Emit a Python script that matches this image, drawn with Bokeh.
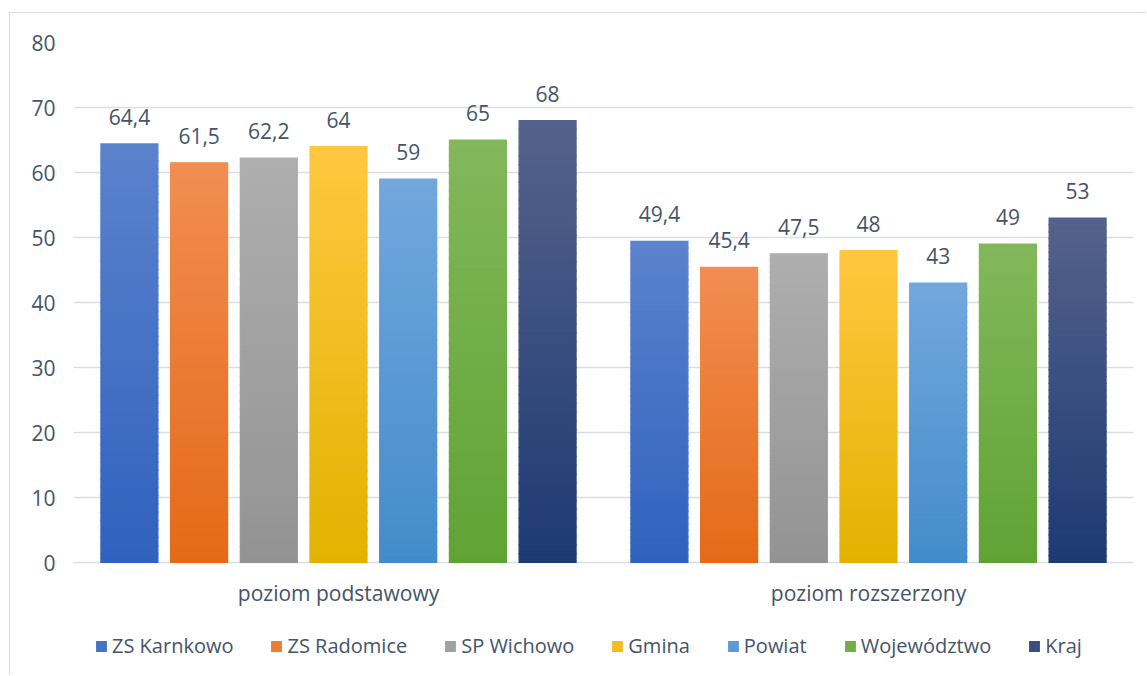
from bokeh.plotting import figure
from bokeh.models import ColumnDataSource, FactorRange, Legend, LegendItem, Range1d
from bokeh.transform import dodge
from bokeh.core.properties import value
from bokeh.embed import file_html
from bokeh.resources import INLINE

groups = ["poziom podstawowy", "poziom rozszerzony"]
series = ["ZS Karnkowo", "ZS Radomice", "SP Wichowo", "Gmina", "Powiat", "Województwo", "Kraj"]
podstawowy = [64.4, 61.5, 62.2, 64, 59, 65, 68]
rozszerzony = [49.4, 45.4, 47.5, 48, 43, 49, 53]
y_ticks = [0, 10, 20, 30, 40, 50, 60, 70, 80]

top_colors = ["#5B82CC", "#F28D52", "#AEAEAE", "#FFC740", "#72A7DD", "#82B85B", "#55628B"]
bottom_colors = ["#2F62BE", "#E46A17", "#939393", "#E3B200", "#438CCB", "#60A334", "#1D3A73"]

FONT = "Open Sans"
TXT = "#44546A"
GRID = "#DADDE2"

# the figure element is offset by a margin + 1px border (the chart-area frame)
OFF_X, OFF_Y = 10, 13
W, H = 1137, 663
TOP, LEFT, RIGHT = 42 - OFF_Y, 73 - OFF_X, 14
PX_PER_UNIT = 6.5
y_min = 80 - (H - TOP) / PX_PER_UNIT   # extra room below zero for labels and legend

p = figure(width=W, height=H, x_range=FactorRange(*groups, range_padding=0),
           y_range=Range1d(y_min, 80), output_backend="svg", toolbar_location=None,
           x_axis_location=None,
           min_border_left=LEFT, min_border_right=RIGHT, min_border_top=TOP,
           min_border_bottom=0,
           styles={"margin-left": "9px", "margin-top": "12px",
                   "border-left": "1px solid #D9DDE3", "border-top": "1px solid #D9DDE3"})
p.outline_line_color = None
p.background_fill_color = "white"
p.border_fill_color = "white"


def hex2rgb(h):
    h = h.lstrip("#")
    return tuple(int(h[i:i + 2], 16) for i in (0, 2, 4))


def mix(c1, c2, t):
    a, b = hex2rgb(c1), hex2rgb(c2)
    return "#%02x%02x%02x" % tuple(int(round(a[i] + (b[i] - a[i]) * t)) for i in range(3))


STEP = 0.1315
BAR_W = 0.1075
N = 50
values_by_group = [podstawowy, rozszerzony]

# grid
p.ygrid.grid_line_color = GRID
p.ygrid.grid_line_width = 1.5
p.xgrid.grid_line_color = None

items = []
for i, name in enumerate(series):
    xs, bots, tops, cols = [], [], [], []
    for g, vals in zip(groups, values_by_group):
        v = vals[i]
        for k in range(N):
            xs.append(g)
            bots.append(v * k / N)
            tops.append(v * (k + 1) / N)
            cols.append(mix(bottom_colors[i], top_colors[i], (k + 0.5) / N))
    src = ColumnDataSource(dict(x=xs, bottom=bots, top=tops, color=cols))
    r = p.vbar(x=dodge("x", (i - 3) * STEP, range=p.x_range), bottom="bottom", top="top",
               width=BAR_W, fill_color="color", line_color="color", line_width=1.2,
               line_join="miter", source=src)
    items.append(LegendItem(label=name, renderers=[r], index=N // 2))

# data labels
for i in range(len(series)):
    s = ColumnDataSource(dict(x=list(groups), y=[vals[i] for vals in values_by_group],
                              text=[("%g" % vals[i]).replace(".", ",") for vals in values_by_group]))
    p.text(x=dodge("x", (i - 3) * STEP, range=p.x_range), y="y", text="text", source=s,
           text_align="center", text_baseline="alphabetic", y_offset=-27,
           text_font=value(FONT), text_font_size="21px", text_color=TXT)

# category labels under the groups
cat_src = ColumnDataSource(dict(x=list(groups), y=[0, 0], text=list(groups)))
p.text(x="x", y="y", text="text", source=cat_src, text_align="center",
       text_baseline="alphabetic", y_offset=30, text_font=value(FONT),
       text_font_size="21px", text_color=TXT)

# y axis
p.yaxis.ticker = y_ticks
p.yaxis.axis_line_color = None
p.yaxis.major_tick_line_color = None
p.yaxis.minor_tick_line_color = None
p.yaxis.major_label_text_font = FONT
p.yaxis.major_label_text_font_size = "21px"
p.yaxis.major_label_text_color = TXT
p.yaxis.major_label_standoff = 12

legend = Legend(items=items, orientation="horizontal", location=(22, 17),
                glyph_width=12, glyph_height=12, label_standoff=5, spacing=37,
                padding=0, margin=0, border_line_alpha=0, background_fill_alpha=0,
                label_text_font=FONT, label_text_font_size="20px",
                label_text_color=TXT)
p.add_layout(legend, "center")

open("out.html", "w").write(file_html(p, INLINE))
